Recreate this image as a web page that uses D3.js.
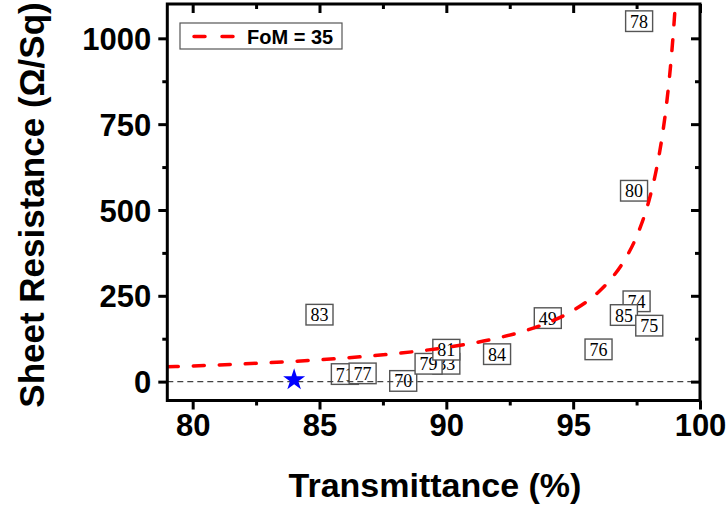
<!DOCTYPE html>
<html><head><meta charset="utf-8">
<script src="https://cdn.jsdelivr.net/npm/d3@7"></script>
<style>
html,body{margin:0;padding:0;background:#fff;}
svg{display:block;}
</style></head>
<body>
<svg id="chart" width="728" height="507"></svg>
<script>
// ---- data ----
const labelTexts = ["83","71","77","70","33","79","81","84","49","76","74","85","75","80","78"];
const labelT     = [85.0, 86.0, 86.7, 88.3, 90.0, 89.3, 90.0, 92.0, 94.0, 96.0, 97.5, 97.0, 98.0, 97.4, 97.6];
const labelR     = [195,  22,   24,   2,    52,   52,   93,   80,   185,  94,   234,  194,  163,  556,  1050];
const starT = [84.0];
const starR = [5];
const fomT = [79, 80, 82, 84, 86, 88, 90, 92, 93, 94, 95, 96, 96.5, 97, 97.5, 98, 98.3, 98.5, 98.7, 98.9, 99, 99.02, 99.05];
const fomR = [43.1, 45.6, 51.6, 59.1, 68.8, 81.6, 99.6, 126.5, 145.8, 171.4, 207.3, 261.2, 299.7, 351.0, 422.8, 530.5, 625.5, 710.0, 820.5, 970.9, 1069, 1091, 1126];
const xTicks = [80, 85, 90, 95, 100];
const xMinor = [82.5, 87.5, 92.5, 97.5];
const yTicks = [0, 250, 500, 750, 1000];
const yMinor = [125, 375, 625, 875];
const legendLabel = "FoM = 35";
const xTitle = "Transmittance (%)";
const yTitle = "Sheet Resistance (\u03A9/Sq)";

(function(){
const svg = d3.select("#chart");
const L = 167.3, R = 700, T = 4, B = 400.5;
const x = d3.scaleLinear().domain([79, 100]).range([L, R]);
const y = d3.scaleLinear().domain([-55, 1100]).range([B, T]);
const font = "'Liberation Sans', Arial, sans-serif";

svg.append("defs").append("clipPath").attr("id","clip")
  .append("rect").attr("x",L).attr("y",T).attr("width",R-L).attr("height",B-T);

// label boxes
const plot = svg.append("g").attr("clip-path","url(#clip)");
const lab = plot.selectAll("g.lab").data(labelTexts.map((t,i)=>({t, T:labelT[i], R:labelR[i]})))
  .join("g").attr("class","lab")
  .attr("transform", d=>`translate(${x(d.T)},${y(d.R)})`);
lab.append("rect").attr("x",-13.5).attr("y",-10.3).attr("width",27).attr("height",20.6)
  .attr("fill","#fff").attr("stroke","#555").attr("stroke-width",1.4);
lab.append("text").text(d=>d.t).attr("text-anchor","middle").attr("dy","0.36em")
  .attr("font-family","'Liberation Serif', 'Times New Roman', serif").attr("font-size",18).attr("fill","#000");

// zero dashed line
plot.append("line").attr("x1",L).attr("x2",R).attr("y1",y(0)).attr("y2",y(0))
  .attr("stroke","#444").attr("stroke-width",1.2).attr("stroke-dasharray","6,4");

// FoM curve
const line = d3.line().x(d=>x(d[0])).y(d=>y(d[1])).curve(d3.curveMonotoneX);
plot.append("path").datum(fomT.map((t,i)=>[t,fomR[i]])).attr("d",line)
  .attr("fill","none").attr("stroke","#ff0000").attr("stroke-width",3.5)
  .attr("stroke-linecap","round").attr("stroke-dasharray","11,15");

// star
plot.selectAll("path.star").data(starT.map((t,i)=>[t,starR[i]])).join("path").attr("class","star")
  .attr("d", d3.symbol().type(d3.symbolStar).size(150))
  .attr("transform", d=>`translate(${x(d[0])},${y(d[1])})`)
  .attr("fill","#0000ff");

// axes
const axG = svg.append("g");
axG.append("g").attr("transform",`translate(0,${B})`)
  .call(d3.axisBottom(x).tickValues(xTicks).tickSize(9).tickPadding(4).tickFormat(d3.format("d")));
axG.append("g").attr("transform",`translate(0,${B})`)
  .call(d3.axisBottom(x).tickValues(xMinor).tickSize(5).tickFormat(""));
axG.append("g").attr("transform",`translate(0,${T})`)
  .call(d3.axisBottom(x).tickValues(xTicks).tickSize(9).tickFormat(""));
axG.append("g").attr("transform",`translate(0,${T})`)
  .call(d3.axisBottom(x).tickValues(xMinor).tickSize(5).tickFormat(""));
const gLeft = axG.append("g").attr("transform",`translate(${L},0)`)
  .call(d3.axisLeft(y).tickValues(yTicks).tickSize(9).tickPadding(7).tickFormat(d3.format("d")));
axG.append("g").attr("transform",`translate(${L},0)`)
  .call(d3.axisLeft(y).tickValues(yMinor).tickSize(5).tickFormat(""));
axG.append("g").attr("transform",`translate(${R},0)`)
  .call(d3.axisLeft(y).tickValues(yTicks).tickSize(9).tickFormat(""));
axG.append("g").attr("transform",`translate(${R},0)`)
  .call(d3.axisLeft(y).tickValues(yMinor).tickSize(5).tickFormat(""));
axG.selectAll(".domain").remove();
axG.selectAll(".tick line").attr("stroke","#000").attr("stroke-width",3);
axG.selectAll(".tick text").attr("font-family",font).attr("font-weight","bold")
  .attr("font-size",31).attr("fill","#000");
gLeft.selectAll(".tick text").attr("dy","0.36em");

// frame
svg.append("rect").attr("x",L).attr("y",T).attr("width",R-L).attr("height",B-T)
  .attr("fill","none").attr("stroke","#000").attr("stroke-width",3);

// legend
const lg = svg.append("g");
lg.append("rect").attr("x",180).attr("y",23).attr("width",162).attr("height",26)
  .attr("fill","#fff").attr("stroke","#555").attr("stroke-width",1.2);
lg.append("line").attr("x1",194).attr("x2",236).attr("y1",36.5).attr("y2",36.5)
  .attr("stroke","#ff0000").attr("stroke-width",3.5).attr("stroke-linecap","round").attr("stroke-dasharray","11,17");
lg.append("text").text(legendLabel).attr("x",247).attr("y",43.5)
  .attr("font-family",font).attr("font-weight","bold").attr("font-size",20).attr("fill","#000");

// titles
svg.append("text").text(xTitle).attr("x",435).attr("y",497).attr("text-anchor","middle")
  .attr("font-family",font).attr("font-weight","bold").attr("font-size",34).attr("fill","#000");
svg.append("text").text(yTitle).attr("transform","translate(44,205) rotate(-90)").attr("text-anchor","middle")
  .attr("font-family",font).attr("font-weight","bold").attr("font-size",35).attr("fill","#000");
})();
</script>
</body></html>
